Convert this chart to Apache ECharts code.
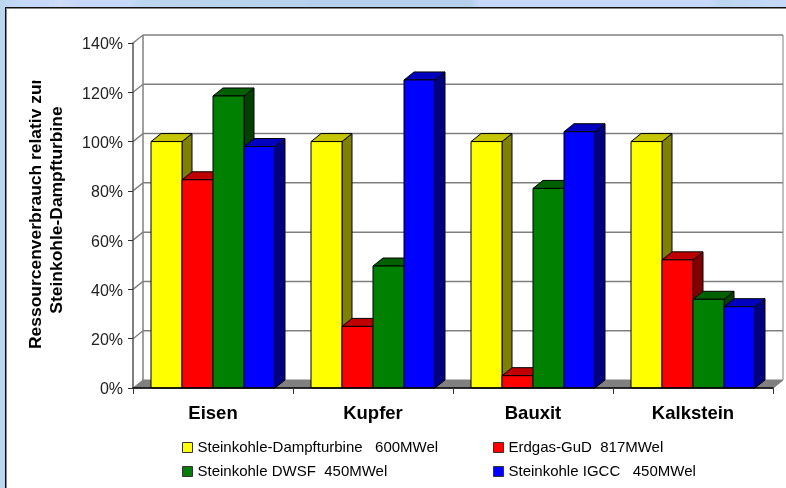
<!DOCTYPE html>
<html><head><meta charset="utf-8">
<style>
html,body{margin:0;padding:0;width:786px;height:488px;overflow:hidden;background:#bcd6ee}
#bg{position:absolute;left:0;top:0;width:786px;height:7px;background:linear-gradient(90deg,#bcd6ee 0,#c6d8fb 25px,#c6d8fb 45px,#cddcf8 60px,#c6d8fb 80px,#c6d8fb 130px,#bcd6ee 140px,#b6d2ec 300px,#b4d0ec 310px,#b4d0ec 470px,#c6d8fb 480px,#c6d8fb 710px,#bcd6ee 720px,#c6d8fb 786px)}
#panel{position:absolute;left:5px;top:7px;width:790px;height:490px;background:#fff;border:1px solid #111;box-shadow:inset 1px 1px 0 #888}
#c{position:absolute;left:0;top:0;width:786px;height:488px}
</style></head><body>
<div id="bg"></div><div id="panel"></div><div id="c"></div>
<script src="https://cdn.jsdelivr.net/npm/echarts@6/dist/echarts.min.js"></script>
<script>
const categories = ['Eisen','Kupfer','Bauxit','Kalkstein'];
const seriesNames = ['Steinkohle-Dampfturbine   600MWel','Erdgas-GuD  817MWel','Steinkohle DWSF  450MWel','Steinkohle IGCC   450MWel'];
const dampfturbine = [100,100,100,100];
const erdgas = [84.5,25,5,52];
const dwsf = [118.5,49.5,81,36];
const igcc = [98,125,104,33];
const yTicks = [0,20,40,60,80,100,120,140];
const faces = [
  {front:'#ffff00',top:'#c4c400',side:'#808000'},
  {front:'#ff0000',top:'#c00000',side:'#800000'},
  {front:'#008000',top:'#006000',side:'#004000'},
  {front:'#0000ff',top:'#0000c0',side:'#000080'}
];
const DX = 10, DY = 8, BAR_SHARE = 31/160;
const chart = echarts.init(document.getElementById('c'), null, {renderer:'canvas'});

function bar3d(idx){
  return function(params, api){
    const c = api.coord([api.value(0), api.value(1)]);
    const base = api.coord([api.value(0), 0])[1];
    const band = api.size([1,0])[0];
    const w = band*BAR_SHARE;
    const x0 = c[0] + (idx-2)*w, x1 = x0 + w, y = c[1];
    const st = f => ({fill:f, stroke:'#000', lineWidth:1});
    return {type:'group', children:[
      {type:'polygon', shape:{points:[[x1,y],[x1+DX,y-DY],[x1+DX,base-DY],[x1,base]]}, style:st(faces[idx].side)},
      {type:'polygon', shape:{points:[[x0,y],[x0+DX,y-DY],[x1+DX,y-DY],[x1,y]]}, style:st(faces[idx].top)},
      {type:'rect', shape:{x:x0,y:y,width:w,height:base-y}, style:st(faces[idx].front)}
    ]};
  };
}
function wallRender(params, api){
  const v = api.value(0);
  const r = params.coordSys;
  const y = api.coord([0, v])[1];
  const xL = r.x, xR = r.x + r.width;
  const ln = (a,b,col) => ({type:'line', shape:{x1:a[0],y1:a[1],x2:b[0],y2:b[1]}, style:{stroke:col||'#808080', lineWidth:1.5}});
  const kids = [];
  if (v === 0) {
    kids.push({type:'polygon', shape:{points:[[xL,y],[xL+DX,y-DY],[xR+DX,y-DY],[xR,y]]}, style:{fill:'#808080', stroke:'#808080', lineWidth:1}});
  } else {
    kids.push(ln([xL,y],[xL+DX,y-DY]));
    kids.push(ln([xL+DX,y-DY],[xR+DX,y-DY]));
  }
  if (v === 140) {
    const by = api.coord([0,0])[1];
    kids.push(ln([xL+DX,y-DY],[xL+DX,by-DY]));
    kids.push({type:'line', shape:{x1:xR+DX,y1:y-DY,x2:xR+DX,y2:by-DY}, style:{stroke:'#808080', lineWidth:1}});
    kids.push({type:'line', shape:{x1:xR,y1:by,x2:xR+DX,y2:by-DY}, style:{stroke:'#808080', lineWidth:1}});
  }
  return {type:'group', children:kids};
}
const values = [dampfturbine, erdgas, dwsf, igcc];
const series = [{
  type:'custom', name:'wall', coordinateSystem:'cartesian2d', silent:true, clip:false, z:1,
  encode:{x:-1,y:0}, data:yTicks.map(v=>[v]), renderItem:wallRender, animation:false
}].concat(values.map((vals,i)=>({
  type:'custom', name:seriesNames[i], coordinateSystem:'cartesian2d', clip:false, z:2+i, animation:false,
  itemStyle:{color:faces[i].front},
  encode:{x:0,y:1}, data:vals.map((v,k)=>[categories[k],v]), renderItem:bar3d(i)
})));
const legendBase = {orient:'vertical', itemWidth:10, itemHeight:10, itemGap:9, icon:'rect', selectedMode:false,
  textStyle:{fontFamily:'Liberation Sans', fontSize:15, color:'#000', padding:[0,0,0,0]}};
const itemSt = i => ({name:seriesNames[i], itemStyle:{color:faces[i].front, borderColor:'#333', borderWidth:1}});
chart.setOption({
  animation:false,
  backgroundColor:'transparent',
  grid:{left:133,right:13,top:43,bottom:100},
  xAxis:{type:'category', data:categories, z:6,
    axisLine:{lineStyle:{color:'#000',width:1.5}},
    axisTick:{show:true,length:6,alignWithLabel:false,lineStyle:{color:'#333',width:1}},
    axisLabel:{fontFamily:'Liberation Sans',fontSize:18.5,fontWeight:'bold',color:'#000',margin:16}},
  yAxis:{type:'value', min:0, max:140, interval:20, z:6,
    axisLine:{show:true,lineStyle:{color:'#555',width:1.5}},
    axisTick:{show:true,length:5,lineStyle:{color:'#333',width:1}},
    splitLine:{show:false},
    axisLabel:{margin:10,formatter:'{a|{value}%}',
      rich:{a:{fontFamily:'Liberation Sans',fontSize:16,color:'#222',padding:[4,0,0,0]}}}},
  legend:[
    Object.assign({},legendBase,{left:177,top:435,data:[itemSt(0),itemSt(2)]}),
    Object.assign({},legendBase,{left:488,top:435,data:[itemSt(1),itemSt(3)]})
  ],
  graphic:[
    {type:'text', x:36.5, y:349, rotation:Math.PI/2, scaleX:1.09, z:10,
      style:{text:'Ressourcenverbrauch relativ zur', x:0,y:0, align:'left', verticalAlign:'middle', fontFamily:'Liberation Sans', fontSize:16, fontWeight:'bold', fill:'#000'}},
    {type:'text', x:57.5, y:210, rotation:Math.PI/2, scaleX:1.09, z:10,
      style:{text:'Steinkohle-Dampfturbine', x:0,y:0, align:'center', verticalAlign:'middle', fontFamily:'Liberation Sans', fontSize:16, fontWeight:'bold', fill:'#000'}},
    {type:'rect', z:11, shape:{x:26,y:55,width:22,height:25.5}, style:{fill:'#fff'}}
  ],
  series:series
});
</script></body></html>
